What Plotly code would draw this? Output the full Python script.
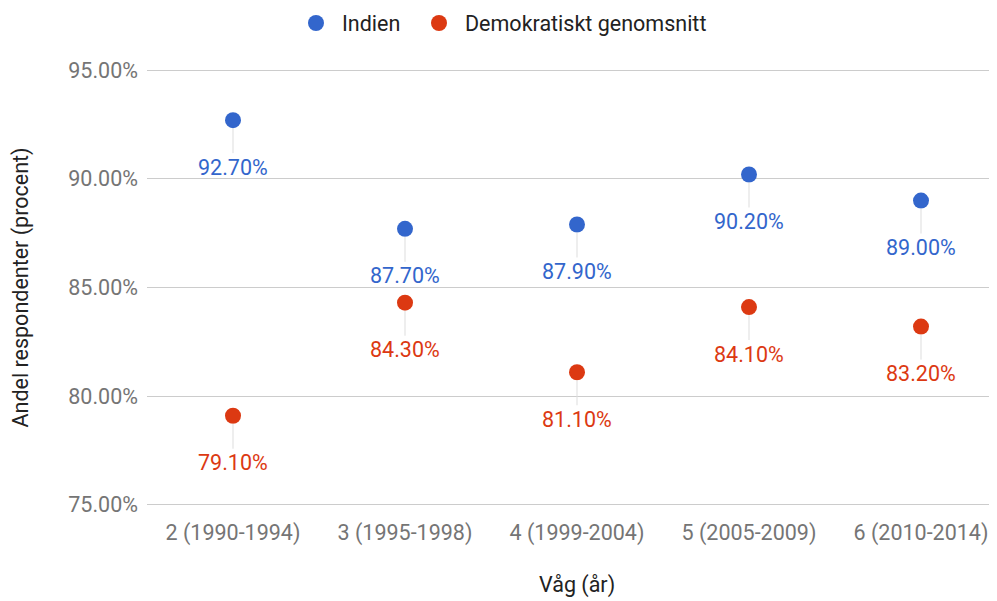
import plotly.graph_objects as go

categories = ["2 (1990-1994)", "3 (1995-1998)", "4 (1999-2004)", "5 (2005-2009)", "6 (2010-2014)"]
indien = [92.7, 87.7, 87.9, 90.2, 89.0]
demokratiskt = [79.1, 84.3, 81.1, 84.1, 83.2]
y_ticks = [75, 80, 85, 90, 95]

BLUE = "#3366CC"
RED = "#DC3912"
FONT = "Roboto"
FS = 21.5

# page body has an 8px default margin; figure coordinates compensate for it
OFF = 8
W, H = 997, 601
Y_LO, Y_HI, PAD = 75, 95, 0.1
px_per_unit = (505 - 70) / (Y_HI - Y_LO)
plot_left = 147 - OFF
plot_right = 997 - OFF
plot_top = 70 - OFF - PAD * px_per_unit
plot_bottom = 505 - OFF + PAD * px_per_unit
cat_w = 172

x_idx = list(range(len(categories)))

fig = go.Figure()
fig.add_trace(go.Scatter(x=x_idx, y=indien, mode="markers", name="Indien",
                         marker=dict(color=BLUE, size=16), legend="legend"))
fig.add_trace(go.Scatter(x=x_idx, y=demokratiskt, mode="markers", name="Demokratiskt genomsnitt",
                         marker=dict(color=RED, size=16), legend="legend2"))

annotations = []
for series, color in ((indien, BLUE), (demokratiskt, RED)):
    for xi, v in zip(x_idx, series):
        annotations.append(dict(
            x=xi, y=v, xref="x", yref="y", text=f"{v:.2f}%",
            showarrow=True, arrowhead=0, arrowwidth=1, arrowcolor="#dddddd",
            ax=0, ay=47, standoff=8,
            font=dict(family=FONT, size=FS, color=color)))

pw = plot_right - plot_left
ph = plot_bottom - plot_top
x_max = pw / cat_w - 0.5
full_right = plot_left + cat_w * len(categories)

annotations.append(dict(
    text="Våg (år)", xref="paper", yref="paper",
    x=((plot_left + full_right) / 2 - plot_left) / pw,
    y=-(585 - OFF - plot_bottom) / ph, xanchor="center", yanchor="middle", showarrow=False,
    font=dict(family=FONT, size=FS, color="#222222")))

legend_common = dict(orientation="h", xanchor="left",
                     y=1 - 15 / H, yanchor="middle", yref="container",
                     itemwidth=42,
                     font=dict(family=FONT, size=FS, color="#222222"),
                     itemsizing="trace", bgcolor="rgba(0,0,0,0)")

fig.update_layout(
    width=W, height=H,
    margin=dict(l=plot_left, r=W - plot_right, t=plot_top, b=H - plot_bottom, autoexpand=False),
    paper_bgcolor="white", plot_bgcolor="white",
    font=dict(family=FONT, size=FS, color="#757575"),
    showlegend=True,
    legend=dict(x=(282 - plot_left) / pw, **legend_common),
    legend2=dict(x=(405 - plot_left) / pw, **legend_common),
    annotations=annotations,
    xaxis=dict(range=[-0.5, x_max], tickmode="array", tickvals=x_idx, ticktext=categories,
               showgrid=False, zeroline=False, showline=False, ticks="",
               ticklabelstandoff=int(round(8 + PAD * px_per_unit)), automargin=False,
               tickfont=dict(family=FONT, size=FS, color="#757575")),
    yaxis=dict(range=[Y_LO - PAD, Y_HI + PAD], tickmode="array", tickvals=y_ticks,
               ticktext=[f"{t:.2f}%" for t in y_ticks],
               showgrid=True, gridcolor="#cccccc", gridwidth=1, zeroline=False,
               showline=False, ticks="", ticklabelstandoff=8, automargin=False,
               tickfont=dict(family=FONT, size=FS, color="#757575"),
               title=dict(text="Andel respondenter (procent)", standoff=34,
                          font=dict(family=FONT, size=FS, color="#222222"))),
)

fig.write_html("out.html")
